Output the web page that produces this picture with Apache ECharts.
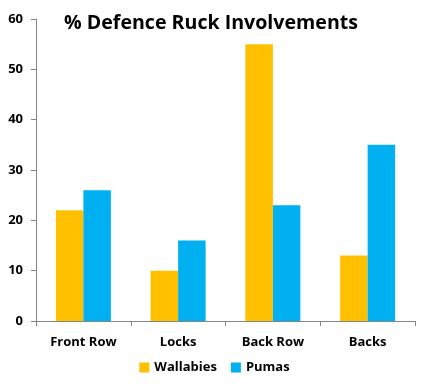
<!DOCTYPE html>
<html><head><meta charset="utf-8">
<script src="https://cdn.jsdelivr.net/npm/echarts@6/dist/echarts.min.js"></script>
<style>html,body{margin:0;padding:0;background:#fff}#c{width:429px;height:384px}</style>
</head><body><div id="c"></div>
<script>
const categories = ["Front Row", "Locks", "Back Row", "Backs"];
const wallabies = [22, 10, 55, 13];
const pumas = [26, 16, 23, 35];
const yTicks = [0, 10, 20, 30, 40, 50, 60];

const chart = echarts.init(document.getElementById('c'), null, {renderer: 'canvas'});
const font = '"Open Sans", "DejaVu Sans", sans-serif';
chart.setOption({
  animation: false,
  title: {
    text: '% Defence Ruck Involvements',
    left: 64, top: 13, padding: 0,
    textStyle: {fontFamily: font, fontSize: 19.6, fontWeight: 'bold', color: '#000'}
  },
  legend: {
    data: ['Wallabies', 'Pumas'],
    bottom: 5, left: 'center',
    itemWidth: 10, itemHeight: 10, itemGap: 14,
    icon: 'rect',
    textStyle: {fontFamily: font, fontSize: 13, fontWeight: 'bold', color: '#000'}
  },
  grid: {left: 36, right: 14, top: 19, bottom: 63, containLabel: false},
  xAxis: {
    type: 'category', data: categories,
    axisLine: {lineStyle: {color: '#868686'}},
    axisTick: {show: true, length: 5, alignWithLabel: false, lineStyle: {color: '#868686'}},
    axisLabel: {fontFamily: font, fontSize: 13, fontWeight: 'bold', color: '#000', margin: 15}
  },
  yAxis: {
    type: 'value', min: 0, max: 60, interval: 10,
    axisLine: {show: true, lineStyle: {color: '#868686'}},
    axisTick: {show: true, length: 5, lineStyle: {color: '#868686'}},
    splitLine: {show: false},
    axisLabel: {fontFamily: font, fontSize: 13, fontWeight: 'bold', color: '#000', margin: 13,
      formatter: v => yTicks.includes(v) ? String(v) : ''}
  },
  series: [
    {name: 'Wallabies', type: 'bar', data: wallabies, itemStyle: {color: '#FFC000'},
     barWidth: 27.5, barGap: '0%'},
    {name: 'Pumas', type: 'bar', data: pumas, itemStyle: {color: '#00B0F0'},
     barWidth: 27.5, barGap: '0%'}
  ]
});
</script></body></html>
